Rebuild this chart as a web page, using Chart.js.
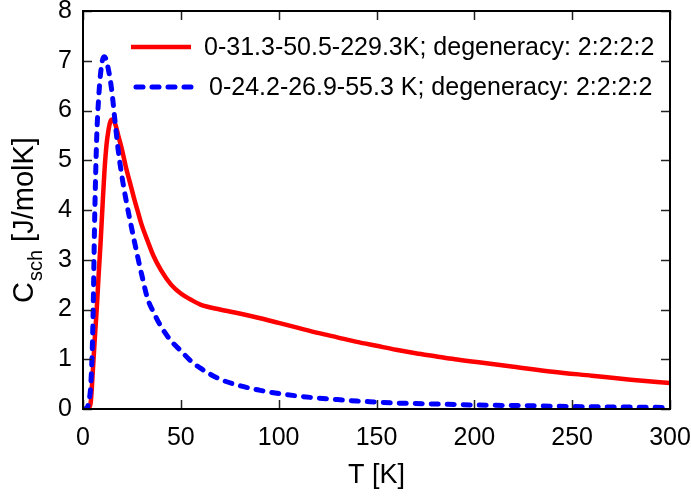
<!DOCTYPE html>
<html>
<head>
<meta charset="utf-8">
<script src="https://cdn.jsdelivr.net/npm/chart.js@4"></script>
<style>
  html, body { margin: 0; padding: 0; background: #fff; }
  #wrap { width: 691px; height: 496px; }
</style>
</head>
<body>
<div id="wrap"><canvas id="graph"></canvas></div>
<script>
(function () {
    'use strict'

    // Schottky heat capacity, two level schemes
    const redT = [0, 2, 3, 4, 5, 6, 7, 8, 9, 10, 11, 12, 13, 14, 15, 16, 17, 18, 20, 22,
        24, 26, 28, 30, 33, 36, 40, 45, 50, 55, 60, 70, 80, 90, 100, 110, 120, 130,
        140, 150, 160, 170, 180, 190, 200, 220, 240, 260, 280, 300];
    const redC = [0, 0, 0.02, 0.15, 0.75, 1.4, 2.0, 2.7, 3.35, 4.1, 4.8, 5.3, 5.6, 5.78, 5.82, 5.78, 5.66, 5.5, 5.2, 4.85,
        4.55, 4.25, 3.97, 3.7, 3.38, 3.08, 2.78, 2.5, 2.32, 2.2, 2.1, 2.0, 1.92, 1.83, 1.73, 1.63, 1.53, 1.44,
        1.35, 1.27, 1.19, 1.12, 1.06, 1.0, 0.95, 0.85, 0.75, 0.67, 0.59, 0.52];

    const blueT = [0, 1, 2, 3, 4, 5, 6, 7, 8, 9, 10, 11, 12, 13, 14, 15, 16, 17, 18, 20,
        22, 24, 26, 28, 30, 33, 36, 40, 45, 50, 55, 60, 70, 80, 90, 100, 110, 120,
        130, 140, 150, 160, 170, 180, 200, 220, 250, 275, 300];
    const blueC = [0, 0, 0.02, 0.15, 0.5, 1.6, 3.9, 5.45, 6.25, 6.75, 7.02, 7.08, 7.0, 6.82, 6.6, 6.3, 5.92, 5.55, 5.2, 4.65,
        4.2, 3.8, 3.42, 3.05, 2.7, 2.22, 1.95, 1.65, 1.37, 1.17, 0.97, 0.82, 0.6, 0.47, 0.38, 0.31, 0.26, 0.22,
        0.19, 0.16, 0.14, 0.12, 0.11, 0.1, 0.08, 0.07, 0.05, 0.04, 0.03];

    const redLabel = '0-31.3-50.5-229.3K; degeneracy: 2:2:2:2';
    const blueLabel = '0-24.2-26.9-55.3 K; degeneracy: 2:2:2:2';

    const xTicks = [0, 50, 100, 150, 200, 250, 300];
    const yTicks = [0, 1, 2, 3, 4, 5, 6, 7, 8];

    const FONT = '"Liberation Sans", Arial, sans-serif';

    function pts(xs, ys) {
        return xs.map((x, i) => ({ x: x, y: ys[i] }));
    }

    // frame, inward ticks on all sides, axis titles and the key
    const decor = {
        id: 'decor',
        afterDraw(chart) {
            const ctx = chart.ctx;
            const a = chart.chartArea;
            const sx = chart.scales.x;
            const sy = chart.scales.y;
            const tl = 9;

            ctx.save();
            ctx.strokeStyle = '#222';
            ctx.lineWidth = 1.5;
            ctx.beginPath();
            xTicks.forEach(v => {
                const px = Math.round(sx.getPixelForValue(v)) + 0.5;
                ctx.moveTo(px, a.bottom); ctx.lineTo(px, a.bottom - tl);
                ctx.moveTo(px, a.top); ctx.lineTo(px, a.top + tl);
            });
            yTicks.forEach(v => {
                const py = Math.round(sy.getPixelForValue(v)) + 0.5;
                ctx.moveTo(a.left, py); ctx.lineTo(a.left + tl, py);
                ctx.moveTo(a.right, py); ctx.lineTo(a.right - tl, py);
            });
            ctx.stroke();

            ctx.strokeStyle = '#000';
            ctx.lineWidth = 2;
            ctx.strokeRect(a.left, a.top, a.right - a.left, a.bottom - a.top);

            // axis titles
            ctx.fillStyle = '#000';
            ctx.textBaseline = 'alphabetic';
            ctx.textAlign = 'center';
            ctx.font = '27px ' + FONT;
            ctx.fillText('T [K]', (a.left + a.right) / 2, 483);

            ctx.save();
            ctx.translate(33, 303);
            ctx.rotate(-Math.PI / 2);
            ctx.textAlign = 'left';
            ctx.font = '29px ' + FONT;
            ctx.fillText('C', 0, 0);
            let w = ctx.measureText('C').width;
            ctx.font = '20px ' + FONT;
            ctx.fillText('sch', w + 1, 9);
            w += ctx.measureText('sch').width + 1;
            ctx.font = '29px ' + FONT;
            ctx.fillText(' [J/molK]', w, 0);
            ctx.restore();

            // key
            const rows = [
                { ds: chart.data.datasets[0], x0: 131, x1: 191, y: 47, tx: 204 },
                { ds: chart.data.datasets[1], x0: 136, x1: 193, y: 87, tx: 209 }
            ];
            ctx.font = '25px ' + FONT;
            ctx.textAlign = 'left';
            ctx.textBaseline = 'middle';
            rows.forEach(r => {
                ctx.save();
                ctx.strokeStyle = r.ds.borderColor;
                ctx.lineWidth = r.ds.borderWidth;
                ctx.lineCap = r.ds.borderCapStyle || 'butt';
                ctx.setLineDash(r.ds.borderDash || []);
                ctx.beginPath();
                ctx.moveTo(r.x0, r.y);
                ctx.lineTo(r.x1, r.y);
                ctx.stroke();
                ctx.restore();
                ctx.fillText(r.ds.label, r.tx, r.y + 1);
            });
            ctx.restore();
        }
    };

    const ctx = document.getElementById('graph');
    new Chart(ctx, {
        type: 'scatter',
        data: {
            datasets: [{
                label: redLabel,
                data: pts(redT, redC),
                showLine: true,
                borderColor: '#ff0000',
                borderWidth: 4.5,
                pointRadius: 0,
                cubicInterpolationMode: 'monotone',
                order: 1
            }, {
                label: blueLabel,
                data: pts(blueT, blueC),
                showLine: true,
                borderColor: '#0000ff',
                borderWidth: 5,
                borderDash: [7, 9],
                borderCapStyle: 'round',
                pointRadius: 0,
                cubicInterpolationMode: 'monotone',
                order: 0
            }]
        },
        options: {
            responsive: true,
            maintainAspectRatio: false,
            animation: false,
            layout: { padding: { top: 11, right: 21, left: 0, bottom: 0 } },
            plugins: {
                legend: { display: false },
                tooltip: { enabled: false }
            },
            scales: {
                x: {
                    type: 'linear',
                    min: 0,
                    max: 300,
                    afterBuildTicks: s => { s.ticks = xTicks.map(v => ({ value: v })); },
                    afterFit: s => { s.height = 87; s.paddingLeft = 0; s.paddingRight = 0; },
                    grid: { display: false, drawTicks: false },
                    border: { display: false },
                    ticks: { color: '#000', font: { size: 25, family: FONT }, padding: 14, maxRotation: 0 }
                },
                y: {
                    type: 'linear',
                    min: 0,
                    max: 8,
                    afterBuildTicks: s => { s.ticks = yTicks.map(v => ({ value: v })); },
                    afterFit: s => { s.width = 83; s.paddingTop = 0; s.paddingBottom = 0; },
                    grid: { display: false, drawTicks: false },
                    border: { display: false },
                    ticks: { color: '#000', font: { size: 25, family: FONT }, padding: 11 }
                }
            }
        },
        plugins: [decor]
    });
})()
</script>
</body>
</html>
